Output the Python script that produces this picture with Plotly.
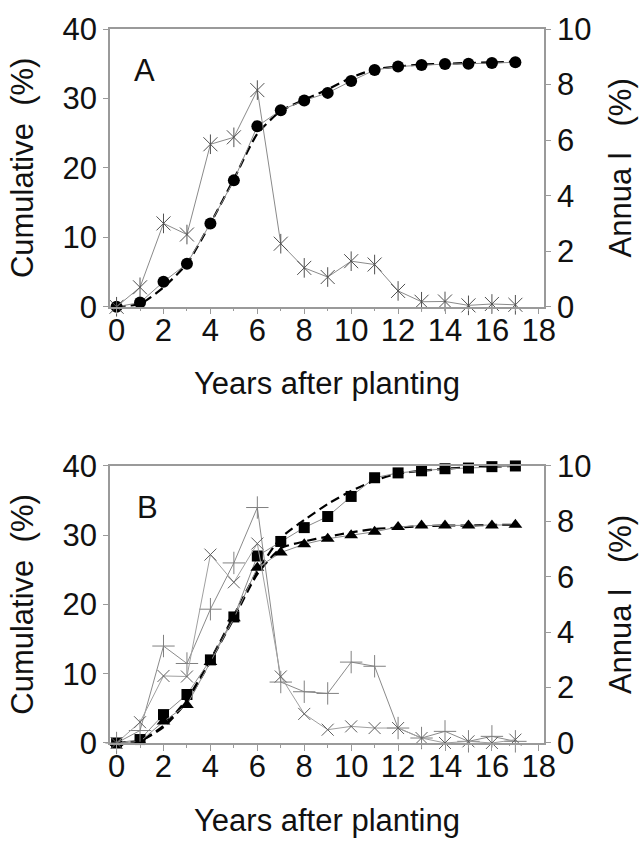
import plotly.graph_objects as go
from plotly.subplots import make_subplots

years = list(range(18))

# Panel A
a_cum = [0, 0.6, 3.6, 6.2, 12.0, 18.2, 26.0, 28.3, 29.7, 30.8, 32.5, 34.1, 34.6, 34.8, 34.95, 35.0, 35.1, 35.2]
a_fit = [0, 0.4, 2.8, 6.2, 12.0, 18.4, 24.9, 28.2, 29.8, 31.3, 33.0, 34.2, 34.6, 34.9, 35.0, 35.1, 35.2, 35.3]
a_annual = [0, 0.7, 3.0, 2.6, 5.85, 6.1, 7.8, 2.27, 1.4, 1.07, 1.64, 1.52, 0.57, 0.18, 0.19, 0.05, 0.1, 0.07]

# Panel B
b_cum_sq = [0, 0.5, 4.1, 7.0, 12.0, 18.2, 27.0, 29.1, 31.1, 32.7, 35.6, 38.3, 39.0, 39.3, 39.6, 39.7, 39.9, 40.0]
b_fit_sq = [0, 0.3, 2.5, 6.3, 12.0, 18.4, 24.8, 29.6, 32.2, 34.5, 36.4, 37.9, 38.9, 39.3, 39.6, 39.8, 39.9, 40.0]
b_cum_tri = [0, 0.2, 3.1, 5.5, 11.7, 18.0, 25.3, 27.5, 28.7, 29.5, 30.0, 30.5, 31.2, 31.4, 31.4, 31.4, 31.4, 31.5]
b_fit_tri = [0, 0.3, 2.3, 6.0, 11.8, 18.0, 24.4, 28.1, 29.1, 29.8, 30.4, 30.9, 31.1, 31.3, 31.4, 31.4, 31.5, 31.5]
b_annual_plus = [0, 0.45, 3.5, 2.87, 4.83, 6.5, 8.5, 2.2, 1.85, 1.79, 2.92, 2.77, 0.54, 0.18, 0.42, 0.06, 0.24, 0.06]
b_annual_x = [0, 0.75, 2.42, 2.4, 6.8, 5.8, 7.2, 2.4, 1.05, 0.48, 0.6, 0.54, 0.54, 0.18, 0.0, 0.06, 0.0, 0.12]

x_ticks = list(range(0, 19, 2))
left_ticks = [0, 10, 20, 30, 40]
right_ticks = [0, 2, 4, 6, 8, 10]

FONT = "Liberation Sans, Arial, sans-serif"
GREY = "#9a9a9a"
LINEGREY = "#8a8a8a"

fig = make_subplots(rows=2, cols=1, specs=[[{"secondary_y": True}], [{"secondary_y": True}]],
                    vertical_spacing=0.1)

def cum_traces(row, y, fit, symbol, size):
    fig.add_trace(go.Scatter(x=years, y=fit, mode="lines", line=dict(color="black", width=2.2, dash="9px,5px", shape="spline", smoothing=0.6),
                             showlegend=False, hoverinfo="skip", cliponaxis=False), row=row, col=1, secondary_y=False)
    fig.add_trace(go.Scatter(x=years, y=y, mode="lines+markers", line=dict(color=LINEGREY, width=1),
                             marker=dict(symbol=symbol, size=size, color="black"),
                             showlegend=False, cliponaxis=False), row=row, col=1, secondary_y=False)

def annual_trace(row, y, symbols, size, color, linecolor, dash="solid"):
    fig.add_trace(go.Scatter(x=years, y=y, mode="lines+markers", line=dict(color=linecolor, width=1, dash=dash),
                             marker=dict(symbol=symbols[0], size=size, color=color, line=dict(color=color, width=1)),
                             showlegend=False, cliponaxis=False), row=row, col=1, secondary_y=True)
    for s in symbols[1:]:
        fig.add_trace(go.Scatter(x=years, y=y, mode="markers",
                                 marker=dict(symbol=s, size=size, color=color, line=dict(color=color, width=1)),
                                 showlegend=False, cliponaxis=False), row=row, col=1, secondary_y=True)

# Panel A
annual_trace(1, a_annual, ["x-thin-open", "line-ns-open"], 14, "#505050", LINEGREY)
cum_traces(1, a_cum, a_fit, "circle", 12)

# Panel B
annual_trace(2, b_annual_plus, ["cross-thin-open"], 16, "#808080", LINEGREY)
annual_trace(2, b_annual_x, ["x-thin-open"], 12, "#606060", "#a0a0a0")
cum_traces(2, b_cum_sq, b_fit_sq, "square", 11)
cum_traces(2, b_cum_tri, b_fit_tri, "triangle-up", 12)

tickfont = dict(family=FONT, size=31, color="#111111")
titlefont = dict(family=FONT, size=31, color="#111111")

xcommon = dict(range=[-0.28, 18.22], tickvals=x_ticks, ticktext=[str(v) for v in x_ticks],
               showline=True, linecolor=GREY, linewidth=1.5, mirror=True,
               ticks="outside", ticklen=6, tickcolor=GREY, tickwidth=1, ticklabelstandoff=-11,
               minor=dict(dtick=1, ticks="outside", ticklen=3, tickcolor=GREY),
               showgrid=False, zeroline=False, tickfont=tickfont,
               title=dict(text="Years after planting", font=titlefont, standoff=26))
ycommon = dict(range=[0, 40], tickvals=left_ticks, showline=True, linecolor=GREY, linewidth=1.5,
               ticks="outside", ticklen=5, tickcolor=GREY, showgrid=False, zeroline=False,
               tickfont=tickfont, title=dict(text="Cumulative  (%)", font=titlefont, standoff=20))
y2common = dict(range=[0, 10], tickvals=right_ticks, showline=True, linecolor=GREY, linewidth=1.5,
                ticks="outside", ticklen=5, tickcolor=GREY, showgrid=False, zeroline=False,
                tickfont=tickfont, title=dict(text="Annua l   (%)", font=titlefont, standoff=19))

fig.update_layout(
    width=644, height=844, margin=dict(l=110, r=90, t=25, b=97),
    paper_bgcolor="white", plot_bgcolor="white", showlegend=False,
    xaxis=dict(**xcommon, domain=[0, 1]),
    xaxis2=dict(**xcommon, domain=[0, 1]),
    yaxis=dict(**ycommon, domain=[0.611, 1.0]),
    yaxis2=dict(**y2common),
    yaxis3=dict(**ycommon, domain=[0.0, 0.388]),
    yaxis4=dict(**y2common),
    annotations=[
        dict(text="A", x=1.2, y=34.0, xref="x", yref="y", showarrow=False, xanchor="center", yanchor="middle",
             font=dict(family=FONT, size=31, color="#111111")),
        dict(text="B", x=1.3, y=34.0, xref="x2", yref="y3", showarrow=False, xanchor="center", yanchor="middle",
             font=dict(family=FONT, size=31, color="#111111")),
    ],
)
fig.update_yaxes(domain=[0.611, 1.0], row=1, col=1, secondary_y=True)
fig.update_yaxes(domain=[0.0, 0.388], row=2, col=1, secondary_y=True)

fig.write_html("out.html")
